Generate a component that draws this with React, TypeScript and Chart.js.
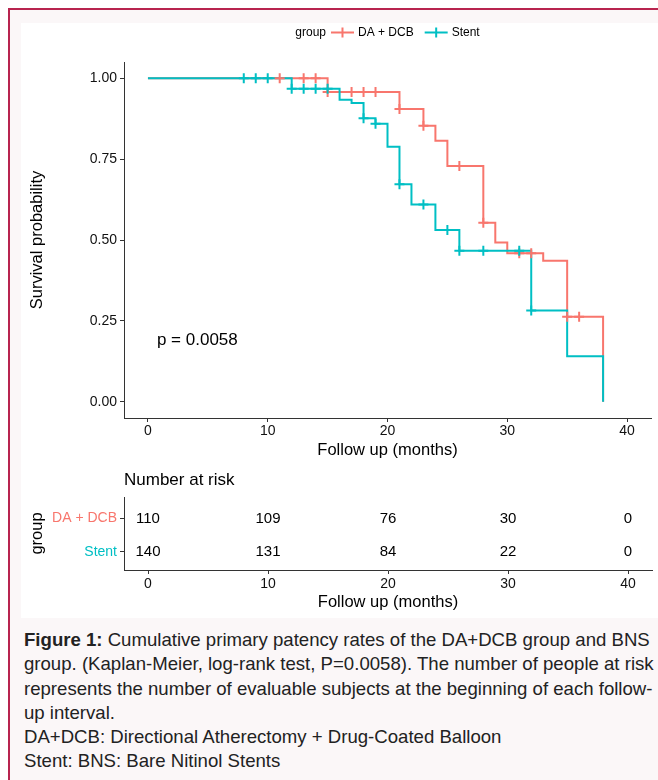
import React, { useEffect, useRef } from "react";
import { Chart, registerables } from "chart.js";

Chart.register(...registerables);

const FONT = '"Liberation Sans", Arial, Helvetica, sans-serif';
const RED = "#F8766D";
const CYAN = "#00BFC4";
const AXIS = "#333333";

// ---- data ----
const groups = ["DA + DCB", "Stent"];
const groupColors = [RED, CYAN];
const xTicks = [0, 10, 20, 30, 40];
const yTicks = [0, 0.25, 0.5, 0.75, 1];

const daTimes = [0, 15, 21, 23, 24, 25, 28, 29, 30, 33, 35, 38];
const daSurv = [1, 0.957, 0.905, 0.853, 0.807, 0.729, 0.553, 0.492, 0.459, 0.436, 0.263, 0];
const daCensorTimes = [11, 13, 14, 15, 17, 18, 19, 21, 23, 26, 28, 31, 32, 35, 36];
const daCensorSurv = [1, 1, 1, 0.957, 0.957, 0.957, 0.957, 0.905, 0.853, 0.729, 0.553, 0.459, 0.459, 0.263, 0.263];

const stentTimes = [0, 12, 16, 17, 18, 19, 20, 21, 22, 24, 26, 32, 35, 38];
const stentSurv = [1, 0.967, 0.933, 0.923, 0.876, 0.859, 0.788, 0.672, 0.61, 0.531, 0.467, 0.282, 0.141, 0];
const stentCensorTimes = [8, 9, 10, 12, 13, 14, 15, 18, 19, 21, 23, 25, 26, 28, 31, 32];
const stentCensorSurv = [1, 1, 1, 0.967, 0.967, 0.967, 0.967, 0.876, 0.859, 0.672, 0.61, 0.531, 0.467, 0.467, 0.467, 0.282];

const riskTimes = [0, 10, 20, 30, 40];
const daRisk = [110, 109, 76, 30, 0];
const stentRisk = [140, 131, 84, 22, 0];
const riskValues = [daRisk, stentRisk];

const pValueText = "p = 0.0058";
const pValueX = 0.75;
const pValueY = 0.19;

const xTitle = "Follow up (months)";
const yTitle = "Survival probability";
const riskTitle = "Number at risk";
const riskYTitle = "group";
const legendTitle = "group";

const pts = (xs: number[], ys: number[]) => xs.map((x, i) => ({ x, y: ys[i] }));

function xAxis(tickPad: number) {
  return {
    type: "linear" as const,
    min: -2,
    max: 42,
    afterBuildTicks: (s: any) => {
      s.ticks = xTicks.map((v) => ({ value: v }));
    },
    afterFit: (s: any) => {
      s.height = 42;
    },
    grid: { display: true, drawOnChartArea: false, drawTicks: true, tickLength: 4, color: AXIS, lineWidth: 1 },
    border: { display: true, color: AXIS, width: 1 },
    ticks: { padding: tickPad, color: "#111", font: { family: FONT, size: 14 }, maxRotation: 0, autoSkip: false },
    title: { display: true, text: xTitle, color: "#000", font: { family: FONT, size: 16.5 }, padding: { top: 0, bottom: 0 } },
  };
}

const kmDecor = {
  id: "kmDecor",
  afterDraw(chart: any) {
    const { ctx, chartArea, scales } = chart;
    ctx.save();
    ctx.fillStyle = "#000";
    ctx.textBaseline = "middle";
    ctx.textAlign = "left";
    ctx.font = `17px ${FONT}`;
    ctx.fillText(pValueText, scales.x.getPixelForValue(pValueX), scales.y.getPixelForValue(pValueY));

    // legend
    ctx.font = `12px ${FONT}`;
    const titleW = ctx.measureText(legendTitle).width;
    const widths = groups.map((g) => ctx.measureText(g).width);
    const symW = 23, g1 = 5, g2 = 4, g3 = 6;
    let total = titleW;
    widths.forEach((w, i) => {
      total += g1 + symW + g2 + w + (i < widths.length - 1 ? g3 : 0);
    });
    let x = (chartArea.left + chartArea.right) / 2 - total / 2;
    const y = 9.5;
    ctx.fillStyle = "#000";
    ctx.fillText(legendTitle, x, y);
    x += titleW;
    groups.forEach((g, i) => {
      x += g1;
      ctx.strokeStyle = groupColors[i];
      ctx.lineWidth = 2;
      ctx.beginPath();
      ctx.moveTo(x, y);
      ctx.lineTo(x + symW, y);
      ctx.moveTo(x + symW / 2, y - 5);
      ctx.lineTo(x + symW / 2, y + 5);
      ctx.stroke();
      x += symW + g2;
      ctx.fillStyle = "#000";
      ctx.fillText(g, x, y);
      x += widths[i] + g3;
    });
    ctx.restore();
  },
};

const riskDecor = {
  id: "riskDecor",
  afterDatasetsDraw(chart: any) {
    const { ctx, chartArea } = chart;
    ctx.save();
    ctx.fillStyle = "#000";
    ctx.textBaseline = "middle";
    ctx.textAlign = "center";
    ctx.font = `15px ${FONT}`;
    chart.data.datasets.forEach((_: any, di: number) => {
      const meta = chart.getDatasetMeta(di);
      meta.data.forEach((el: any, j: number) => {
        ctx.fillText(String(riskValues[di][j]), el.x, el.y);
      });
    });
    ctx.textAlign = "left";
    ctx.font = `17px ${FONT}`;
    ctx.fillText(riskTitle, chartArea.left, 17.5);
    ctx.restore();
  },
};

export default function App() {
  const kmRef = useRef<HTMLCanvasElement>(null);
  const riskRef = useRef<HTMLCanvasElement>(null);

  useEffect(() => {
    const km = new Chart(kmRef.current as HTMLCanvasElement, {
      type: "line",
      data: {
        datasets: [
          { label: groups[0], data: pts(daTimes, daSurv), borderColor: RED, borderWidth: 2, stepped: "before", pointRadius: 0, fill: false, order: 4 } as any,
          { label: groups[1], data: pts(stentTimes, stentSurv), borderColor: CYAN, borderWidth: 2, stepped: "before", pointRadius: 0, fill: false, order: 3 } as any,
          { type: "scatter", label: groups[0] + " censored", data: pts(daCensorTimes, daCensorSurv), pointStyle: "cross", pointRadius: 5, pointBorderColor: RED, pointBorderWidth: 2, borderColor: RED, showLine: false, order: 2 } as any,
          { type: "scatter", label: groups[1] + " censored", data: pts(stentCensorTimes, stentCensorSurv), pointStyle: "cross", pointRadius: 5, pointBorderColor: CYAN, pointBorderWidth: 2, borderColor: CYAN, showLine: false, order: 1 } as any,
        ],
      },
      options: {
        animation: false,
        responsive: false,
        events: [],
        layout: { padding: { left: 0, right: 6, top: 39, bottom: 3 } },
        plugins: { legend: { display: false }, tooltip: { enabled: false }, title: { display: false } },
        scales: {
          x: xAxis(1) as any,
          y: {
            type: "linear",
            min: -0.05,
            max: 1.05,
            afterBuildTicks: (s: any) => {
              s.ticks = yTicks.map((v) => ({ value: v }));
            },
            afterFit: (s: any) => {
              s.width = 103;
            },
            grid: { display: true, drawOnChartArea: false, drawTicks: true, tickLength: 4, color: AXIS, lineWidth: 1 },
            border: { display: true, color: AXIS, width: 1 },
            ticks: { padding: 3, color: "#111", font: { family: FONT, size: 14 }, callback: (v: any) => Number(v).toFixed(2) },
            title: { display: true, text: yTitle, color: "#000", font: { family: FONT, size: 16.5 }, padding: { top: 7, bottom: 0 } },
          } as any,
        },
      },
      plugins: [kmDecor],
    });

    const risk = new Chart(riskRef.current as HTMLCanvasElement, {
      type: "scatter",
      data: {
        datasets: groups.map((g, i) => ({
          label: g,
          data: riskTimes.map((t) => ({ x: t, y: i + 1 })),
          pointRadius: 0,
        })),
      },
      options: {
        animation: false,
        responsive: false,
        events: [],
        layout: { padding: { left: 0, right: 6, top: 34, bottom: 6 } },
        plugins: { legend: { display: false }, tooltip: { enabled: false } },
        scales: {
          x: xAxis(2) as any,
          y: {
            type: "linear",
            min: 0.35,
            max: 2.55,
            reverse: true,
            afterBuildTicks: (s: any) => {
              s.ticks = groups.map((_, i) => ({ value: i + 1 }));
            },
            afterFit: (s: any) => {
              s.width = 103;
            },
            grid: { display: true, drawOnChartArea: false, drawTicks: true, tickLength: 4, color: AXIS, lineWidth: 1 },
            border: { display: true, color: AXIS, width: 1 },
            ticks: {
              padding: 3,
              font: { family: FONT, size: 14 },
              color: (c: any) => groupColors[c.index] || "#000",
              callback: (v: any) => groups[Number(v) - 1] ?? "",
            },
            title: { display: true, text: riskYTitle, color: "#000", font: { family: FONT, size: 16.5 }, padding: { top: 7, bottom: 0 } },
          } as any,
        },
      },
      plugins: [riskDecor],
    });

    return () => {
      km.destroy();
      risk.destroy();
    };
  }, []);

  return (
    <div style={{ position: "absolute", left: 0, top: 0, width: 658, height: 780, overflow: "hidden", background: "#fff", fontFamily: FONT }}>
      <div style={{ position: "absolute", left: 8, top: 8, width: 720, height: 820, border: "2px solid #b8244f", background: "#fbf7f8", boxSizing: "border-box" }} />
      <div style={{ position: "absolute", left: 21, top: 23, width: 660, height: 595, background: "#fff" }} />
      <canvas ref={kmRef} width={637} height={440} style={{ position: "absolute", left: 21, top: 23, width: 637, height: 440 }} />
      <canvas ref={riskRef} width={637} height={155} style={{ position: "absolute", left: 21, top: 463, width: 637, height: 155 }} />
      <div style={{ position: "absolute", left: 24, top: 628, fontSize: 18.6, lineHeight: "24.3px", color: "#222", whiteSpace: "nowrap" }}>
        <b>Figure 1:</b> Cumulative primary patency rates of the DA+DCB group and BNS
        <br />
        group. (Kaplan-Meier, log-rank test, P=0.0058). The number of people at risk
        <br />
        represents the number of evaluable subjects at the beginning of each follow-
        <br />
        up interval.
        <br />
        DA+DCB: Directional Atherectomy + Drug-Coated Balloon
        <br />
        Stent: BNS: Bare Nitinol Stents
      </div>
    </div>
  );
}
